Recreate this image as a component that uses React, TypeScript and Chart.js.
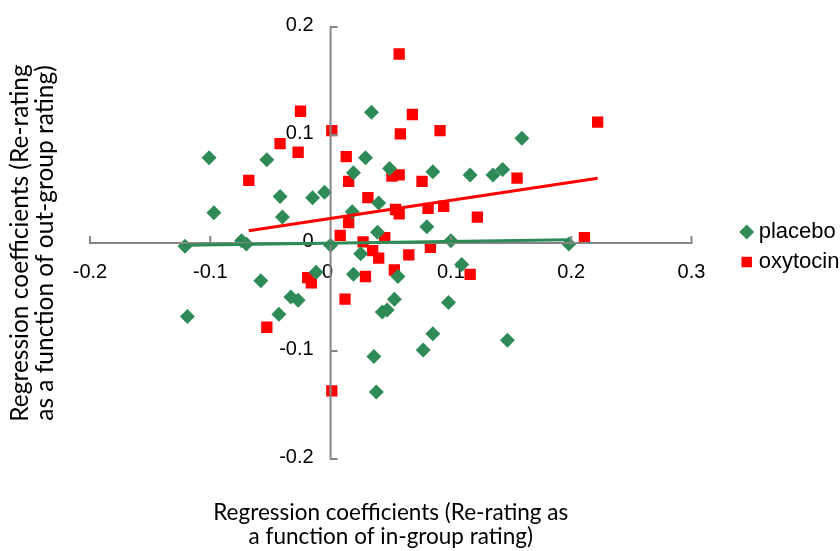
import React, { useEffect, useRef } from 'react';
import { Chart, registerables } from 'chart.js';

Chart.register(...registerables);

// ---- data ----
const seriesNames = ['placebo', 'oxytocin'];

const placeboX = [
  -0.101, -0.053, -0.097, -0.042, -0.040, -0.015, -0.005, -0.121, -0.074, -0.070,
  0.000, 0.034, 0.029, 0.019, 0.049, 0.085, 0.116, 0.135, 0.143, 0.159,
  0.040, 0.018, 0.039, 0.080, 0.100, 0.198, 0.025, 0.019, 0.056, 0.053,
  0.043, 0.047, 0.098, 0.109, 0.085, 0.077, 0.147, 0.036, 0.038, -0.058,
  -0.119, -0.043, -0.033, -0.027, -0.012,
];
const placeboY = [
  0.079, 0.077, 0.028, 0.043, 0.024, 0.042, 0.047, -0.003, 0.002, -0.001,
  -0.002, 0.121, 0.079, 0.065, 0.069, 0.066, 0.063, 0.063, 0.068, 0.097,
  0.037, 0.029, 0.010, 0.015, 0.002, -0.001, -0.010, -0.029, -0.031, -0.052,
  -0.064, -0.062, -0.055, -0.020, -0.084, -0.099, -0.090, -0.105, -0.138, -0.035,
  -0.068, -0.066, -0.050, -0.053, -0.027,
];

const oxytocinX = [
  -0.025, 0.001, -0.042, -0.027, -0.068, 0.008, 0.057, 0.068, 0.058, 0.091,
  0.013, 0.015, 0.051, 0.057, 0.076, 0.155, 0.031, 0.054, 0.057, 0.081,
  0.094, 0.015, 0.122, 0.027, 0.045, 0.083, 0.222, 0.211, 0.035, 0.040,
  0.065, 0.029, 0.053, 0.116, 0.012, 0.001, -0.019, -0.016, -0.053,
];
const oxytocinY = [
  0.122, 0.104, 0.092, 0.084, 0.058, 0.007, 0.175, 0.119, 0.101, 0.104,
  0.080, 0.057, 0.062, 0.063, 0.057, 0.060, 0.042, 0.031, 0.027, 0.032,
  0.034, 0.019, 0.024, 0.001, 0.005, -0.004, 0.112, 0.005, -0.007, -0.014,
  -0.011, -0.031, -0.025, -0.029, -0.052, -0.137, -0.032, -0.037, -0.078,
];

// trend lines (end points)
const placeboTrendX = [-0.121, 0.198];
const placeboTrendY = [-0.002, 0.003];
const oxytocinTrendX = [-0.068, 0.222];
const oxytocinTrendY = [0.0114, 0.0599];

// axes
const xTicks = [-0.2, -0.1, 0, 0.1, 0.2, 0.3];
const xTickLabels = ['-0.2', '-0.1', '0', '0.1', '0.2', '0.3'];
const yTicks = [0.2, 0.1, 0, -0.1, -0.2];
const yTickLabels = ['0.2', '0.1', '0', '-0.1', '-0.2'];

const xTitle = ['Regression coefficients (Re-rating as', 'a function of in-group rating)'];
const yTitle = ['Regression coefficients (Re-rating', 'as a function of out-group rating)'];

// ---- styles ----
const GREEN = '#2E8B57';
const RED = '#FF0000';
const AXIS_GRAY = '#868686';
const TICK_FONT = "20px 'Liberation Sans', Arial, sans-serif";
const TITLE_FAMILY = "Lato, 'Open Sans', sans-serif";

const toPoints = (xs: number[], ys: number[]) => xs.map((x, i) => ({ x, y: ys[i] }));

const originLabels = {
  id: 'originLabels',
  beforeDatasetsDraw(chart: any) {
    const xs = chart.scales.x;
    const ys = chart.scales.y;
    const ctx = chart.ctx;
    const x0 = xs.getPixelForValue(0);
    const y0 = ys.getPixelForValue(0);
    ctx.save();
    ctx.font = TICK_FONT;
    ctx.fillStyle = '#000';
    ctx.textBaseline = 'middle';
    ctx.textAlign = 'center';
    xTicks.forEach((t, i) => {
      const dx = t === 0 ? -3 : 0;
      ctx.fillText(xTickLabels[i], xs.getPixelForValue(t) + dx, y0 + 29);
    });
    ctx.textAlign = 'right';
    yTicks.forEach((t, i) => {
      ctx.fillText(yTickLabels[i], x0 - 17, ys.getPixelForValue(t) - 2);
    });
    ctx.restore();
  },
};

const originAxes = {
  id: 'originAxes',
  beforeDatasetDraw(chart: any, args: any) {
    // drawn above the markers, below the trend lines
    if (args.index !== 1) return;
    const xs = chart.scales.x;
    const ys = chart.scales.y;
    const ctx = chart.ctx;
    const x0 = xs.getPixelForValue(0);
    const y0 = ys.getPixelForValue(0);
    ctx.save();
    ctx.strokeStyle = AXIS_GRAY;
    ctx.lineWidth = 2;
    ctx.lineCap = 'square';
    ctx.beginPath();
    ctx.moveTo(xs.getPixelForValue(xTicks[0]), y0);
    ctx.lineTo(xs.getPixelForValue(xTicks[xTicks.length - 1]), y0);
    xTicks.forEach((t) => {
      const px = xs.getPixelForValue(t);
      ctx.moveTo(px, y0);
      ctx.lineTo(px, y0 - 6);
    });
    ctx.moveTo(x0, ys.getPixelForValue(yTicks[0]));
    ctx.lineTo(x0, ys.getPixelForValue(yTicks[yTicks.length - 1]));
    yTicks.forEach((t) => {
      const py = ys.getPixelForValue(t);
      ctx.moveTo(x0, py);
      ctx.lineTo(x0 + 6, py);
    });
    ctx.stroke();
    ctx.restore();
  },
};

export default function App() {
  const canvasRef = useRef<HTMLCanvasElement | null>(null);

  useEffect(() => {
    if (!canvasRef.current) return;
    const chart = new Chart(canvasRef.current, {
      type: 'scatter',
      data: {
        datasets: [
          {
            label: 'placebo trend',
            type: 'line',
            data: toPoints(placeboTrendX, placeboTrendY),
            borderColor: GREEN,
            borderWidth: 3,
            pointRadius: 0,
            fill: false,
          } as any,
          {
            label: 'oxytocin trend',
            type: 'line',
            data: toPoints(oxytocinTrendX, oxytocinTrendY),
            borderColor: RED,
            borderWidth: 3,
            pointRadius: 0,
            fill: false,
          } as any,
          {
            label: seriesNames[0],
            data: toPoints(placeboX, placeboY),
            pointStyle: 'rectRot',
            pointRadius: 7.5,
            backgroundColor: GREEN,
            borderColor: GREEN,
            pointBorderWidth: 0,
            borderWidth: 0,
          },
          {
            label: seriesNames[1],
            data: toPoints(oxytocinX, oxytocinY),
            pointStyle: 'rect',
            pointRadius: 8,
            backgroundColor: RED,
            borderColor: RED,
            pointBorderWidth: 0,
            borderWidth: 0,
          },
        ],
      },
      options: {
        animation: false,
        responsive: false,
        devicePixelRatio: 1,
        events: [],
        layout: { padding: { top: 27, left: 0, right: 0, bottom: 0 }, autoPadding: false },
        scales: {
          x: { type: 'linear', min: -0.2, max: 0.3, display: false },
          y: {
            type: 'linear',
            min: -0.2,
            max: 0.2,
            position: 'right',
            display: true,
            grid: { display: false },
            border: { display: false },
            ticks: { display: false },
            afterFit: (s: any) => {
              s.width = 46.2;
            },
          },
        },
        plugins: {
          tooltip: { enabled: false },
          title: {
            display: true,
            position: 'left',
            fullSize: false,
            align: 'center',
            text: yTitle,
            color: '#000',
            font: { family: TITLE_FAMILY, size: 24.5, lineHeight: 1.02, weight: 'normal' },
            padding: { top: 7.5, bottom: 32.5 },
          },
          subtitle: {
            display: true,
            position: 'bottom',
            fullSize: false,
            align: 'center',
            text: xTitle,
            color: '#000',
            font: { family: TITLE_FAMILY, size: 22.5, lineHeight: 1.0667, weight: 'normal' },
            padding: { top: 42, bottom: 2 },
          },
          legend: {
            display: true,
            position: 'right',
            align: 'center',
            fullSize: false,
            maxWidth: 102.3,
            title: { display: true, text: '', padding: 0, font: { size: 6.67, lineHeight: 1.2 } },
            labels: {
              usePointStyle: true,
              boxWidth: 2,
              boxHeight: 10.5,
              padding: 8,
              color: '#000',
              font: { family: "'Liberation Sans', Arial, sans-serif", size: 22 },
              filter: (item: any) => item.datasetIndex >= 2,
            },
          },
        },
      },
      plugins: [originLabels, originAxes],
    } as any);
    return () => chart.destroy();
  }, []);

  return (
    <div style={{ position: 'absolute', left: 0, top: 0, width: 840, height: 551 }}>
      <canvas ref={canvasRef} width={840} height={551} />
    </div>
  );
}
